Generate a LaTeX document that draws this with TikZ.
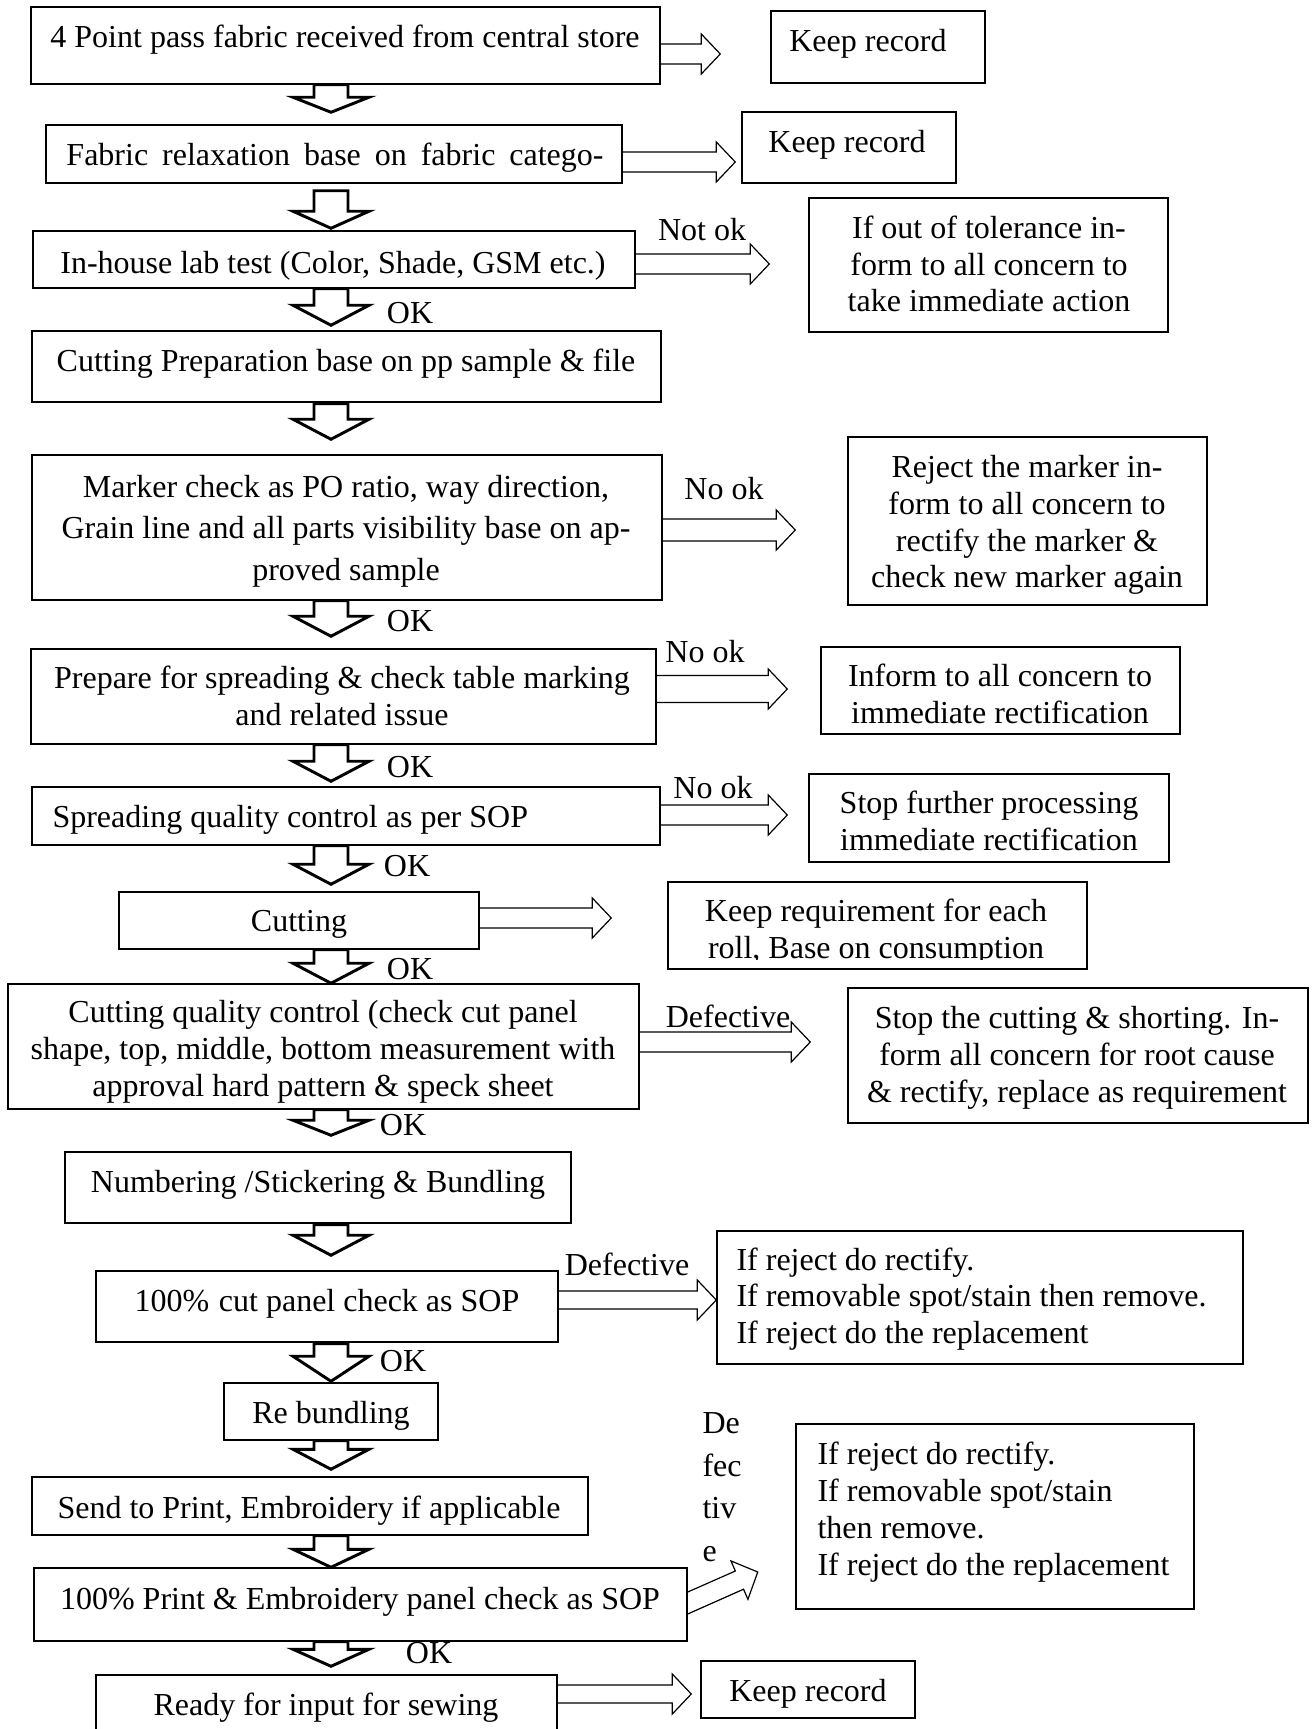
\documentclass[tikz,border=0pt]{standalone}
\usepackage{fontspec}
\setmainfont{Liberation Serif}
\usetikzlibrary{calc}

% hollow block arrow pointing down, centred on the spine
% #1 source, #2 target, #3 gap below source, #4 gap above target, #5 head length (all in px)
\newcommand{\flowdown}[5]{%
  \draw[downflow] let \p1=(#1.south -| spine), \p2=(#2.north -| spine) in
    ({\x1-17*0.375pt},{\y1-(#3)*0.375pt})
    -- ({\x1-17*0.375pt},{\y2+(#4+#5)*0.375pt})
    -- ({\x1-38*0.375pt},{\y2+(#4+#5)*0.375pt})
    -- (\x1,{\y2+(#4)*0.375pt})
    -- ({\x1+38*0.375pt},{\y2+(#4+#5)*0.375pt})
    -- ({\x1+17*0.375pt},{\y2+(#4+#5)*0.375pt})
    -- ({\x1+17*0.375pt},{\y1-(#3)*0.375pt}) -- cycle;
}
% hollow block arrow pointing right
% #1 source, #2 target, #3 axis height, #4 gap before target, #5 shaft half height (px)
\newcommand{\sidearrow}[5]{%
  \draw[sideflow] let \p1=(#1.east), \p2=(#2.west) in
    (\x1,{-(#3-#5)*0.375pt})
    -- ({\x2-(#4+19)*0.375pt},{-(#3-#5)*0.375pt})
    -- ({\x2-(#4+19)*0.375pt},{-(#3-20)*0.375pt})
    -- ({\x2-(#4)*0.375pt},{-(#3)*0.375pt})
    -- ({\x2-(#4+19)*0.375pt},{-(#3+20)*0.375pt})
    -- ({\x2-(#4+19)*0.375pt},{-(#3+#5)*0.375pt})
    -- (\x1,{-(#3+#5)*0.375pt});
}

\begin{document}
\begin{tikzpicture}[x=0.375pt,y=-0.375pt,
  box/.style={draw, line width=0.55pt, inner sep=0pt},
  spanbox/.style n args={4}{box,
    minimum width={(#3-#1)*0.375pt}, minimum height={(#4-#2)*0.375pt},
    at={({(#1+#3)/2},{(#2+#4)/2})}},
  txt/.style={inner sep=0pt, font=\fontsize{12pt}{13.8pt}\selectfont,
    text height=8.4pt, text depth=3pt, yshift=-1.5pt},
  txtm/.style={inner sep=0pt, font=\fontsize{12pt}{13.8pt}\selectfont, align=center},
  downflow/.style={draw, fill=white, line width=1.1pt, line join=miter},
  sideflow/.style={draw, line width=0.45pt, line join=miter},
]
\useasboundingbox (0,0) rectangle (1314,1729);
\fill[white] (0,0) rectangle (1314,1729);
\clip (0,0) rectangle (1314,1729);
\coordinate (spine) at (331,0);

% ---- main process column ----
\node[spanbox={31}{7}{660}{84}] (b1) {};
\node[spanbox={46}{125}{622}{183}] (b2) {};
\node[spanbox={33}{231}{635}{288}] (b3) {};
\node[spanbox={32}{331}{661}{402}] (b4) {};
\node[spanbox={32}{455}{662}{600}] (b5) {};
\node[spanbox={31}{649}{656}{744}] (b6) {};
\node[spanbox={32}{787}{660}{845}] (b7) {};
\node[spanbox={119}{892}{479}{949}] (b8) {};
\node[spanbox={8}{984}{639}{1109}] (b9) {};
\node[spanbox={65}{1152}{571}{1223}] (b10) {};
\node[spanbox={96}{1271}{558}{1342}] (b11) {};
\node[spanbox={224}{1383}{438}{1440}] (b12) {};
\node[spanbox={32}{1477}{588}{1535}] (b13) {};
\node[spanbox={34}{1568}{687}{1641}] (b14) {};
\node[spanbox={96}{1675}{557}{1760}] (b15) {};

\node[txt] (t1) at (345,36) {4 Point pass fabric received from central store};
\node[txt] (t2) at (335,154) {\makebox[201.4pt][s]{Fabric relaxation base on fabric catego-}};
\node[txt] (t3) at (333,262) {In-house lab test (Color, Shade, GSM etc.)};
\node[txt] (t4) at (346,360) {Cutting Preparation base on pp sample \& file};
\node[txtm, font=\fontsize{12pt}{15.6pt}\selectfont] (t5) at (346,531)
  {Marker check as PO ratio, way direction,\\Grain line and all parts visibility base on ap-\\proved sample};
\node[txtm] (t6) at (342,696) {Prepare for spreading \& check table marking\\and related issue};
\node[txt, anchor=west] (t7) at (52,816) {Spreading quality control as per SOP};
\node[txt] (t8) at (299,920) {Cutting};
\node[txtm] (t9) at (323,1052)
  {Cutting quality control (check cut panel\\shape, top, middle, bottom measurement with\\approval hard pattern \& speck sheet};
\node[txt] (t10) at (318,1181) {Numbering /Stickering \& Bundling};
\node[txt] (t11) at (327,1300) {100\%\hspace{0.3em}cut panel check as SOP};
\node[txt] (t12) at (331,1412) {Re bundling};
\node[txt] (t13) at (309,1507) {Send to Print, Embroidery if applicable};
\node[txt] (t14) at (360,1598) {100\% Print \& Embroidery panel check as SOP};
\node[txt] (t15) at (326,1704) {Ready for input for sewing};

% ---- side outcome boxes ----
\node[spanbox={771}{11}{985}{83}] (r1) {};
\node[spanbox={742}{112}{956}{183}] (r2) {};
\node[spanbox={809}{198}{1168}{332}] (r3) {};
\node[spanbox={848}{437}{1207}{605}] (r4) {};
\node[spanbox={821}{647}{1180}{734}] (r5) {};
\node[spanbox={809}{774}{1169}{862}] (r6) {};
\node[spanbox={668}{882}{1087}{969}] (r7) {};
\node[spanbox={848}{988}{1308}{1123}] (r8) {};
\node[spanbox={717}{1231}{1243}{1364}] (r9) {};
\node[spanbox={796}{1424}{1194}{1609}] (r10) {};
\node[spanbox={701}{1661}{915}{1718}] (r11) {};

\node[txt] (r1t) at (868,40) {Keep record};
\node[txt] (r2t) at (847,141) {Keep record};
\node[txtm] (r3t) at (989,264) {If out of tolerance in-\\form to all concern to\\take immediate action};
\node[txtm] (r4t) at (1027,525) {Reject the marker in-\\form to all concern to\\rectify the marker \&\\check new marker again};
\node[txtm] (r5t) at (1000,694) {Inform to all concern to\\immediate rectification};
\node[txtm] (r6t) at (989,821) {Stop further processing\\immediate rectification};
\begin{scope}
  \clip (668,882) rectangle (1087,959);
  \node[txtm] (r7t) at (876,932) {Keep requirement for each\\roll, Base on consumption};
\end{scope}
\node[txtm] (r8t) at (1077,1058) {Stop the cutting \& shorting. In-\\form all concern for root cause\\\& rectify, replace as requirement};
\node[txtm, align=left, anchor=west] (r9t) at (736,1299) {If reject do rectify.\\If removable spot/stain then remove.\\If reject do the replacement};
\node[txtm, align=left, anchor=west] (r10t) at (817,1512) {If reject do rectify.\\If removable spot/stain\\then remove.\\If reject do the replacement};
\node[txt] (r11t) at (808,1690) {Keep record};

% ---- downward flow ----
\flowdown{b1}{b2}{0}{12}{15}
\flowdown{b2}{b3}{7}{2}{17}
\flowdown{b3}{b4}{0}{5}{20}
\flowdown{b4}{b5}{1}{15}{20}
\flowdown{b5}{b6}{0}{12}{20}
\flowdown{b6}{b7}{0}{5}{20}
\flowdown{b7}{b8}{0}{7}{20}
\flowdown{b8}{b9}{0}{0}{20}
\flowdown{b9}{b10}{0}{16}{15}
\flowdown{b10}{b11}{1}{15}{20}
\flowdown{b11}{b12}{1}{1}{25}
\flowdown{b12}{b13}{0}{7}{20}
\flowdown{b13}{b14}{0}{0}{18}
\flowdown{b14}{b15}{0}{8}{17}

% ---- branches to the side ----
\sidearrow{b1}{r1}{54}{50}{10}
\sidearrow{b2}{r2}{162}{6}{10}
\sidearrow{b3}{r3}{264}{39}{10}
\sidearrow{b5}{r4}{530}{52}{11}
\sidearrow{b6}{r5}{689}{33}{13.5}
\sidearrow{b7}{r6}{815}{21}{10}
\sidearrow{b8}{r7}{918}{56}{10}
\sidearrow{b9}{r8}{1042}{37}{10}
\sidearrow{b11}{r9}{1300}{0}{9}
\sidearrow{b15}{r11}{1694}{9}{9}
% slanted branch from the print check
\draw[sideflow] ($(b14.east)+(0,-12.5)$) -- ($(b14.east)+(47.6,-33.5)$)
  -- ($(b14.east)+(43.2,-43.6)$) -- ($(b14.east)+(70,-32.5)$)
  -- ($(b14.east)+(60.2,-5.2)$) -- ($(b14.east)+(55.8,-15.3)$)
  -- ($(b14.east)+(0,9.5)$);

% ---- branch labels ----
\node[txt] (l1) at (702,229) {Not ok};
\node[txt] (l2) at (410,312) {OK};
\node[txt] (l3) at (724,488) {No ok};
\node[txt] (l4) at (410,620) {OK};
\node[txt] (l5) at (705,651) {No ok};
\node[txt] (l6) at (410,766) {OK};
\node[txt] (l7) at (713,787) {No ok};
\node[txt] (l8) at (407,865) {OK};
\node[txt] (l9) at (410,968) {OK};
\node[txt] (l10) at (728,1016) {Defective};
\node[txt] (l11) at (403,1124) {OK};
\node[txt] (l12) at (627,1264) {Defective};
\node[txt] (l13) at (403,1360) {OK};
\node[txtm, align=left, anchor=west, font=\fontsize{12pt}{16pt}\selectfont] (l14) at (702,1487) {De\\fec\\tiv\\e};
\node[txt] (l15) at (429,1652) {OK};
\end{tikzpicture}
\end{document}
